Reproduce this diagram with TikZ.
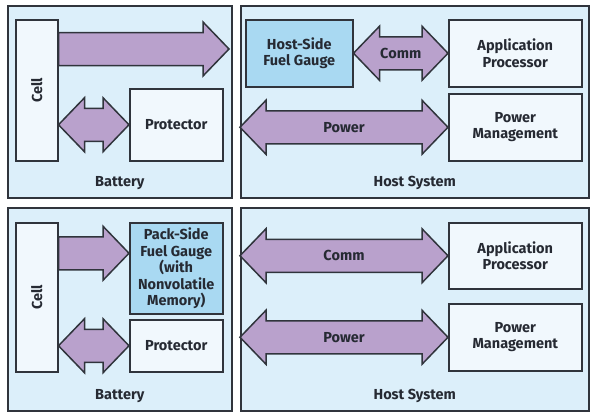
\documentclass[tikz,border=0pt]{standalone}
\usepackage{fontspec}
\setmainfont{Fira Sans}
\usetikzlibrary{calc,positioning}

\definecolor{panelblue}{HTML}{DCEFFA}
\definecolor{boxwhite}{HTML}{F1F8FD}
\definecolor{gaugeblue}{HTML}{A9D9F2}
\definecolor{arrowpurple}{HTML}{B9A1CC}
\definecolor{edgegray}{HTML}{30343C}
\definecolor{inkgray}{HTML}{262A33}

% block arrow sizes
\newcommand{\arrhead}{26pt}
\newcommand{\arrhalf}{27pt}
\newcommand{\arrshaft}{16.5pt}

% one-way block arrow, from #1 to #2
\newcommand{\sglarrow}[2]{%
  \draw [blockarrow] let \p1=(#1), \p2=(#2) in
    (\x1,\y1+\arrshaft) -- (\x2-\arrhead,\y1+\arrshaft) -- (\x2-\arrhead,\y1+\arrhalf)
    -- (\x2,\y1) -- (\x2-\arrhead,\y1-\arrhalf) -- (\x2-\arrhead,\y1-\arrshaft)
    -- (\x1,\y1-\arrshaft) -- cycle;}

% two-way block arrow, from #1 to #2, text #3
\newcommand{\dblarrow}[3]{%
  \draw [blockarrow] let \p1=(#1), \p2=(#2) in
    (\x1,\y1) -- (\x1+\arrhead,\y1+\arrhalf) -- (\x1+\arrhead,\y1+\arrshaft)
    -- (\x2-\arrhead,\y1+\arrshaft) -- (\x2-\arrhead,\y1+\arrhalf) -- (\x2,\y1)
    -- (\x2-\arrhead,\y1-\arrhalf) -- (\x2-\arrhead,\y1-\arrshaft)
    -- (\x1+\arrhead,\y1-\arrshaft) -- (\x1+\arrhead,\y1-\arrhalf) -- cycle
    ({(\x1+\x2)/2},\y1) node {#3};}

\begin{document}
\begin{tikzpicture}
  [x=1pt, y=-1pt,
   every node/.style={font=\bfseries\fontsize{14.5}{16.5}\selectfont, text=inkgray},
   panel/.style={draw=edgegray, line width=1.5pt, fill=panelblue, anchor=north west, inner sep=0pt},
   box/.style={draw=edgegray, line width=1.5pt, fill=boxwhite, anchor=north west, align=center, inner sep=0pt},
   gauge/.style={box, fill=gaugeblue},
   blockarrow/.style={draw=edgegray, line width=1.5pt, fill=arrowpurple}]

\useasboundingbox [fill=white] (0,0) rectangle (595,415);

%%%  nodes

% panels
\node [panel, minimum width=224, minimum height=192] (b1) at (7,5) {};
\node [panel, minimum width=348, minimum height=192] (h1) at (240,5) {};
\node [panel, minimum width=224, minimum height=203] (b2) at (7,207) {};
\node [panel, minimum width=348, minimum height=203] (h2) at (240,207) {};

\node [above=5pt of b1.south] (bl1) {Battery};
\node [above=5pt of h1.south] (hl1) {Host System};
\node [above=5pt of b2.south] (bl2) {Battery};
\node [above=5pt of h2.south] (hl2) {Host System};

% top: host-side gauge
\node [box, minimum width=42, minimum height=141, label={[rotate=90]center:Cell}] (c1) at (15,19) {};
\node [box, minimum width=93, minimum height=72] (p1) at (129,88) {Protector};
\node [gauge, minimum width=107, minimum height=67] (g1) at (245,19) {Host-Side\\Fuel Gauge};
\node [box, minimum width=133, minimum height=67] (a1) at (448,19) {Application\\Processor};
\node [box, minimum width=133, minimum height=67] (m1) at (448,93) {Power\\Management};

% bottom: pack-side gauge
\node [box, minimum width=42, minimum height=149, label={[rotate=90]center:Cell}] (c2) at (15,222) {};
\node [gauge, minimum width=93, minimum height=91] (f2) at (129,222) {Pack-Side\\Fuel Gauge\\(with\\Nonvolatile\\Memory)};
\node [box, minimum width=93, minimum height=52] (p2) at (129,319) {Protector};
\node [box, minimum width=133, minimum height=66] (a2) at (448,222) {Application\\Processor};
\node [box, minimum width=133, minimum height=67] (m2) at (448,303) {Power\\Management};

% arrow ends
\coordinate (t1) at (229,49);
\coordinate (t2) at ($(f2.west)+(0,-15)$);

%%%  arrows

% top
\sglarrow{c1.east |- t1}{t1}
\dblarrow{c1.east |- p1.west}{p1.west}{}
\dblarrow{g1.east}{a1.west}{Comm}
\dblarrow{h1.west |- m1.west}{m1.west}{Power}

% bottom
\sglarrow{c2.east |- t2}{t2}
\dblarrow{c2.east |- p2.west}{p2.west}{}
\dblarrow{h2.west |- a2.west}{a2.west}{Comm}
\dblarrow{h2.west |- m2.west}{m2.west}{Power}

\end{tikzpicture}
\end{document}
